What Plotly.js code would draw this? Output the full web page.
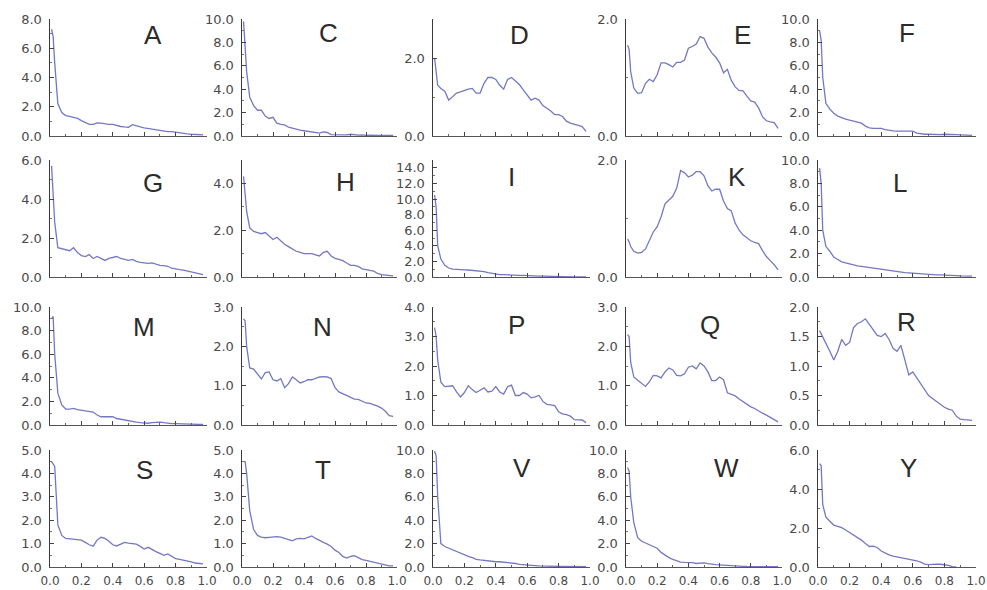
<!DOCTYPE html>
<html>
<head>
<meta charset="utf-8">
<script src="https://cdn.plot.ly/plotly-3.0.1.min.js"></script>
<style>html,body{margin:0;padding:0;background:#fff;}#chart{width:987px;height:590px;}</style>
</head>
<body>
<div id="chart"></div>
<script>
// Common x grid (fraction)
const X = [0.01,0.02,0.03,0.05,0.075,0.1,0.125,0.15,0.175,0.2,0.225,0.25,0.275,0.3,0.325,0.35,0.375,0.4,0.425,0.45,0.475,0.5,0.525,0.55,0.575,0.6,0.625,0.65,0.675,0.7,0.725,0.75,0.775,0.8,0.825,0.85,0.875,0.9,0.925,0.95,0.975];

const serA = [7.3,6.8,5.0,2.2,1.6,1.4,1.35,1.3,1.2,1.05,0.95,0.8,0.8,0.9,0.88,0.82,0.8,0.8,0.72,0.65,0.62,0.6,0.78,0.68,0.62,0.55,0.5,0.45,0.4,0.38,0.35,0.3,0.3,0.25,0.2,0.18,0.15,0.12,0.1,0.08,0.08];
const serC = [9.8,8.0,5.5,3.3,2.6,2.2,2.2,1.7,1.5,1.6,1.1,1.0,0.95,0.75,0.65,0.55,0.5,0.45,0.4,0.3,0.25,0.25,0.35,0.3,0.12,0.1,0.12,0.08,0.1,0.15,0.1,0.08,0.1,0.05,0.08,0.1,0.06,0.05,0.08,0.05,0.05];
const serD = [2.0,1.7,1.3,1.22,1.15,0.92,1.0,1.1,1.13,1.17,1.2,1.22,1.1,1.1,1.35,1.5,1.5,1.45,1.3,1.2,1.45,1.5,1.4,1.32,1.18,1.05,0.92,0.97,0.92,0.78,0.72,0.64,0.55,0.55,0.5,0.38,0.33,0.29,0.27,0.24,0.12];
const serE = [1.55,1.48,1.1,0.82,0.73,0.74,0.9,0.97,0.93,1.05,1.25,1.25,1.22,1.18,1.26,1.26,1.3,1.5,1.53,1.57,1.7,1.67,1.52,1.42,1.35,1.25,1.08,1.14,0.95,0.84,0.78,0.77,0.68,0.6,0.58,0.48,0.33,0.26,0.24,0.23,0.13];
const serF = [9.0,8.2,5.0,2.8,2.3,1.95,1.7,1.55,1.45,1.35,1.25,1.18,1.1,0.85,0.7,0.65,0.62,0.65,0.55,0.47,0.44,0.42,0.42,0.4,0.38,0.42,0.25,0.18,0.15,0.15,0.12,0.14,0.12,0.15,0.12,0.1,0.12,0.1,0.08,0.08,0.06];
const serG = [5.7,4.5,2.8,1.5,1.45,1.4,1.35,1.5,1.25,1.1,1.05,1.15,0.95,1.05,0.95,0.85,0.95,1.0,1.05,0.95,0.9,0.85,0.9,0.8,0.75,0.72,0.7,0.72,0.65,0.6,0.58,0.55,0.45,0.4,0.38,0.35,0.3,0.28,0.22,0.15,0.12];
const serH = [4.3,3.6,2.8,2.1,1.95,1.9,1.85,1.9,1.75,1.6,1.7,1.55,1.4,1.3,1.2,1.1,1.05,1.0,1.0,1.0,0.95,0.9,1.05,1.1,0.9,0.8,0.75,0.7,0.6,0.5,0.5,0.45,0.35,0.3,0.28,0.25,0.15,0.1,0.08,0.05,0.05];
const serI = [10.5,9.0,4.0,2.3,1.5,1.15,1.0,0.95,0.95,0.92,0.9,0.85,0.8,0.75,0.7,0.55,0.45,0.35,0.3,0.3,0.3,0.28,0.25,0.22,0.2,0.2,0.15,0.15,0.12,0.1,0.08,0.05,0.05,0.04,0.03,0.03,0.02,0.02,0.02,0.02,0.02];
const serK = [0.65,0.6,0.52,0.44,0.41,0.42,0.48,0.62,0.77,0.86,1.03,1.25,1.32,1.38,1.52,1.82,1.78,1.71,1.74,1.8,1.8,1.73,1.56,1.47,1.5,1.5,1.3,1.17,1.13,0.92,0.8,0.72,0.67,0.62,0.59,0.57,0.45,0.35,0.28,0.21,0.12];
const serL = [9.3,8.0,4.0,2.6,2.2,1.7,1.5,1.3,1.2,1.1,1.0,0.95,0.9,0.85,0.8,0.72,0.68,0.62,0.58,0.52,0.48,0.45,0.42,0.38,0.35,0.32,0.3,0.28,0.25,0.22,0.2,0.18,0.18,0.15,0.14,0.12,0.12,0.1,0.1,0.09,0.08];
const serM = [9.0,9.2,6.0,2.7,1.7,1.35,1.35,1.4,1.3,1.25,1.2,1.2,1.1,0.85,0.7,0.7,0.72,0.7,0.55,0.48,0.42,0.35,0.28,0.25,0.2,0.18,0.15,0.2,0.22,0.25,0.2,0.15,0.12,0.12,0.1,0.1,0.12,0.08,0.06,0.05,0.05];
const serN = [2.7,2.65,2.0,1.45,1.42,1.3,1.17,1.33,1.35,1.15,1.12,1.18,0.95,1.05,1.22,1.15,1.07,1.1,1.15,1.15,1.18,1.22,1.23,1.22,1.18,0.95,0.84,0.8,0.74,0.7,0.66,0.65,0.6,0.56,0.55,0.52,0.48,0.43,0.35,0.24,0.22];
const serP = [3.3,3.0,2.2,1.45,1.3,1.32,1.33,1.12,0.95,1.1,1.33,1.2,1.1,1.18,1.26,1.12,1.15,1.3,1.12,1.05,1.3,1.35,1.0,1.0,1.1,1.05,0.92,0.95,1.0,0.8,0.7,0.68,0.66,0.45,0.38,0.35,0.3,0.18,0.17,0.17,0.08];
const serQ = [2.3,2.25,1.6,1.22,1.14,1.05,0.98,1.1,1.26,1.25,1.2,1.35,1.45,1.4,1.26,1.25,1.3,1.47,1.5,1.43,1.58,1.5,1.35,1.13,1.13,1.22,1.15,0.82,0.77,0.74,0.66,0.59,0.52,0.46,0.42,0.35,0.3,0.25,0.2,0.15,0.08];
const serR = [1.6,1.55,1.5,1.4,1.25,1.1,1.25,1.45,1.35,1.4,1.65,1.72,1.75,1.8,1.7,1.6,1.52,1.5,1.55,1.45,1.3,1.25,1.35,1.1,0.85,0.9,0.8,0.72,0.6,0.5,0.45,0.4,0.35,0.3,0.27,0.25,0.15,0.1,0.09,0.08,0.08];
const serS = [4.5,4.4,4.3,1.8,1.35,1.22,1.2,1.2,1.18,1.15,1.05,0.95,0.89,1.15,1.27,1.22,1.1,0.95,0.9,0.98,1.05,1.02,0.99,0.98,0.88,0.77,0.84,0.74,0.66,0.58,0.5,0.56,0.45,0.36,0.33,0.3,0.27,0.22,0.17,0.15,0.13];
const serT = [4.5,4.5,4.0,2.4,1.6,1.35,1.28,1.25,1.27,1.3,1.3,1.28,1.22,1.15,1.12,1.2,1.22,1.2,1.28,1.33,1.22,1.12,1.05,0.98,0.88,0.72,0.62,0.45,0.38,0.45,0.48,0.4,0.32,0.28,0.24,0.2,0.15,0.1,0.07,0.05,0.05];
const serV = [9.9,9.5,6.0,2.0,1.75,1.6,1.48,1.35,1.15,1.0,0.9,0.8,0.65,0.6,0.55,0.5,0.48,0.45,0.45,0.42,0.4,0.38,0.3,0.22,0.18,0.15,0.12,0.12,0.1,0.08,0.08,0.06,0.05,0.05,0.05,0.04,0.04,0.04,0.03,0.03,0.03];
const serW = [8.5,8.2,6.0,3.8,2.5,2.2,2.05,1.9,1.8,1.6,1.25,1.0,0.8,0.65,0.5,0.42,0.4,0.42,0.38,0.3,0.32,0.35,0.28,0.22,0.2,0.18,0.15,0.12,0.1,0.1,0.08,0.06,0.05,0.05,0.04,0.04,0.04,0.03,0.03,0.03,0.03];
const serY = [5.3,5.2,3.2,2.55,2.35,2.15,2.08,2.02,1.9,1.78,1.66,1.52,1.38,1.2,1.05,1.07,1.0,0.82,0.7,0.62,0.56,0.52,0.48,0.46,0.42,0.38,0.32,0.25,0.15,0.12,0.14,0.15,0.14,0.12,0.08,0.02,0.0,null,null,null,null];

const panelNames = ['A','C','D','E','F','G','H','I','K','L','M','N','P','Q','R','S','T','V','W','Y'];
const series = [serA,serC,serD,serE,serF,serG,serH,serI,serK,serL,serM,serN,serP,serQ,serR,serS,serT,serV,serW,serY];
const yMax = [8,10,3,2,10,6,5,15,2,10,10,3,4,3,2,5,5,10,10,6];
const yTicks = [
  [0,2,4,6,8],[0,2,4,6,8,10],[0,2],[0,2],[0,2,4,6,8,10],
  [0,2,4,6],[0,2,4],[0,2,4,6,8,10,12,14],[0,2],[0,2,4,6,8,10],
  [0,2,4,6,8,10],[0,1,2,3],[0,1,2,3,4],[0,1,2,3],[0,0.5,1,1.5,2],
  [0,1,2,3,4,5],[0,1,2,3,4,5],[0,2,4,6,8,10],[0,2,4,6,8,10],[0,2,4,6]
];
const yMinor = [1,1,1,1,1, 1,1,1,1,1, 1,0.5,0.5,0.5,0.25, 0.5,0.5,1,1,1];
const xTicks = [0,0.2,0.4,0.6,0.8,1.0];

// layout geometry (pixels in a 987x590 canvas)
const W = 987, H = 590;
const colPx = [[50,207],[242,397],[433,590],[626,782],[818,976]];
const rowPx = [[19,136],[160,277],[307,425],[450,567]];
const labelRel = [
  [0.656,0.863],[0.555,0.88],[0.554,0.863],[0.744,0.863],[0.563,0.88],
  [0.656,0.80],[0.665,0.81],[0.503,0.855],[0.71,0.855],[0.519,0.80],
  [0.60,0.83],[0.52,0.83],[0.535,0.847],[0.54,0.847],[0.563,0.873],
  [0.605,0.83],[0.52,0.83],[0.567,0.847],[0.647,0.847],[0.57,0.847]
];

const lineColor = '#7478c2';
const axisColor = '#3a3a3a';
const tickFont = {family:'DejaVu Sans, Arial, sans-serif', size:13, color:'#4a4a4a'};
const xTickFont = {family:'DejaVu Sans, Arial, sans-serif', size:12, color:'#4a4a4a'};

const traces = [];
const layout = {
  width: W, height: H,
  margin: {l:0, r:0, t:0, b:0},
  paper_bgcolor: '#ffffff', plot_bgcolor: '#ffffff',
  showlegend: false,
  annotations: []
};

series.forEach((ys, i) => {
  const r = Math.floor(i / 5), c = i % 5;
  const n = i + 1;
  const xk = 'x' + (n === 1 ? '' : n), yk = 'y' + (n === 1 ? '' : n);
  traces.push({
    x: X, y: ys, xaxis: xk, yaxis: yk, type: 'scatter', mode: 'lines',
    line: {color: lineColor, width: 1.3}, hoverinfo: 'skip', connectgaps: false
  });
  const xd = [colPx[c][0] / W, colPx[c][1] / W];
  const yd = [1 - rowPx[r][1] / H, 1 - rowPx[r][0] / H];
  layout['xaxis' + (n === 1 ? '' : n)] = {
    domain: xd, anchor: yk, range: [0, 1], fixedrange: true,
    showline: true, linecolor: '#555', linewidth: 1.2,
    showgrid: false, zeroline: false,
    tickmode: 'array', tickvals: xTicks, ticks: 'inside', ticklen: 4, tickwidth: 1, tickcolor: '#444',
    minor: {tickmode: 'linear', tick0: 0, dtick: 0.1, ticks: 'inside', ticklen: 2, tickcolor: '#666'},
    showticklabels: r === 3, tickformat: '.1f', tickfont: xTickFont, ticklabelstandoff: 2
  };
  layout['yaxis' + (n === 1 ? '' : n)] = {
    domain: yd, anchor: xk, range: [0, yMax[i]], fixedrange: true,
    showline: true, linecolor: axisColor, linewidth: 1.5,
    showgrid: false, zeroline: false,
    tickmode: 'array', tickvals: yTicks[i], ticks: 'inside', ticklen: 4, tickwidth: 1, tickcolor: '#444',
    minor: {tickmode: 'linear', tick0: 0, dtick: yMinor[i], ticks: 'inside', ticklen: 2, tickcolor: '#777'},
    showticklabels: true, tickformat: '.1f', tickfont: tickFont, ticklabelstandoff: 4
  };
  layout.annotations.push({
    text: panelNames[i], showarrow: false,
    xref: xk + ' domain', yref: yk + ' domain',
    x: labelRel[i][0], y: labelRel[i][1], xanchor: 'center', yanchor: 'middle',
    font: {family: 'Liberation Sans, Arial, sans-serif', size: 26, color: '#2b2b2b'}
  });
});

Plotly.newPlot('chart', traces, layout, {staticPlot: true, displayModeBar: false});
</script>
</body>
</html>
